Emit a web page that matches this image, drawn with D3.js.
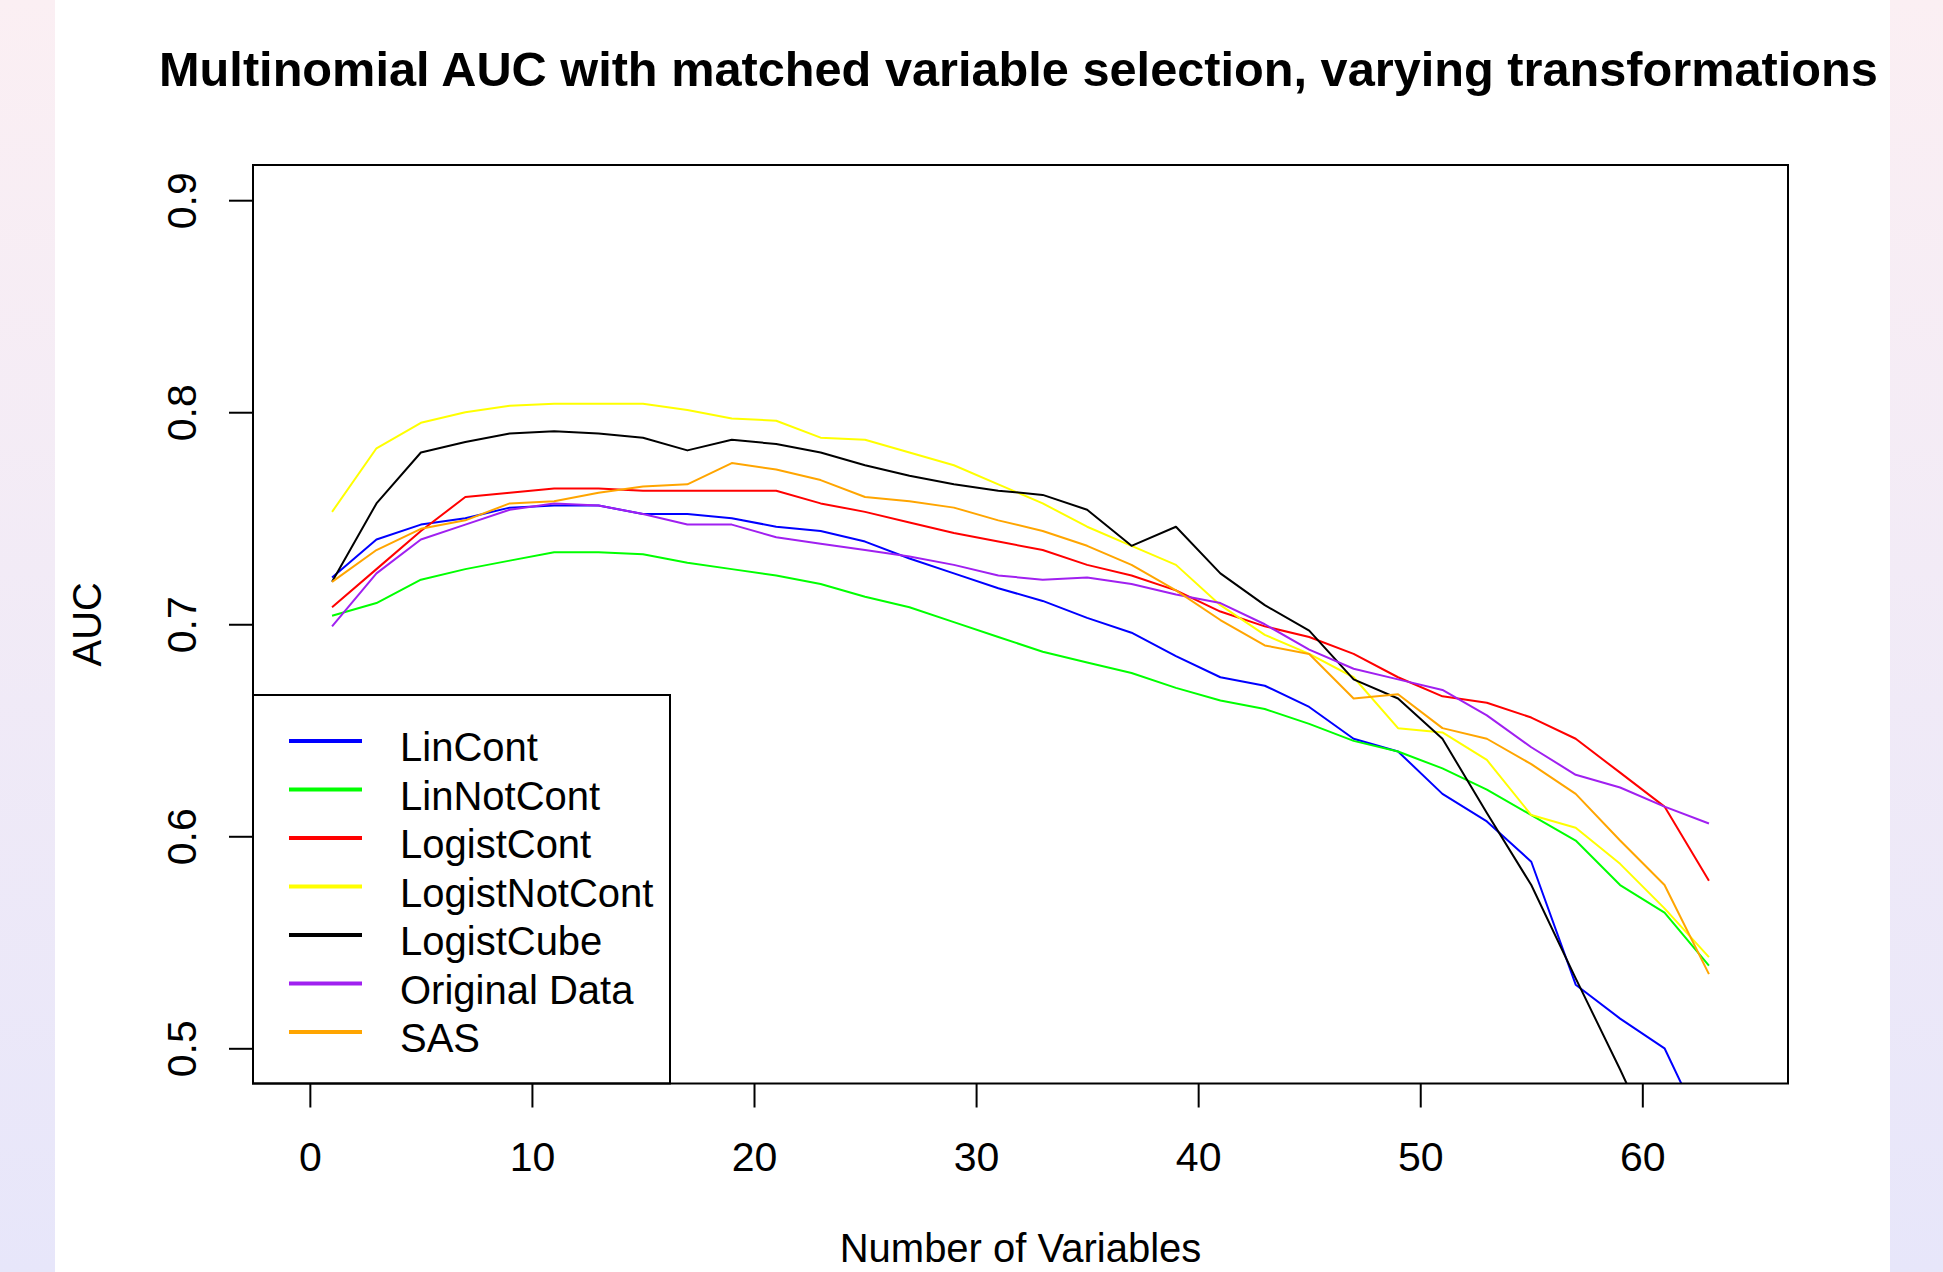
<!DOCTYPE html>
<html>
<head>
<meta charset="utf-8">
<script src="https://cdn.jsdelivr.net/npm/d3@7/dist/d3.min.js"></script>
<style>
  html, body { margin: 0; padding: 0; }
  body { width: 1943px; height: 1272px; overflow: hidden; }
  text { font-family: "Liberation Sans", Arial, sans-serif; fill: #000; }
</style>
</head>
<body>
<svg id="chart" width="1943" height="1272"></svg>
<script>
// number of variables in the model (x axis)
const numVars = [1, 3, 5, 7, 9, 11, 13, 15, 17, 19, 21, 23, 25, 27, 29, 31,
                 33, 35, 37, 39, 41, 43, 45, 47, 49, 51, 53, 55, 57, 59, 61, 63];

// AUC for each transformation
const linCont = [0.722, 0.740, 0.747, 0.750, 0.755, 0.756, 0.756, 0.752, 0.752, 0.750, 0.746, 0.744, 0.739, 0.731, 0.724, 0.717,
                 0.711, 0.703, 0.696, 0.685, 0.675, 0.671, 0.661, 0.646, 0.640, 0.620, 0.607, 0.588, 0.530, 0.514, 0.500, 0.456];
const linNotCont = [0.704, 0.710, 0.721, 0.726, 0.730, 0.734, 0.734, 0.733, 0.729, 0.726, 0.723, 0.719, 0.713, 0.708, 0.701, 0.694,
                    0.687, 0.682, 0.677, 0.670, 0.664, 0.660, 0.653, 0.645, 0.640, 0.632, 0.622, 0.610, 0.598, 0.577, 0.564, 0.539];
const logistCont = [0.708, 0.726, 0.744, 0.760, 0.762, 0.764, 0.764, 0.763, 0.763, 0.763, 0.763, 0.757, 0.753, 0.748, 0.743, 0.739,
                    0.735, 0.728, 0.723, 0.716, 0.706, 0.699, 0.694, 0.686, 0.675, 0.666, 0.663, 0.656, 0.646, 0.630, 0.614, 0.579];
const logistNotCont = [0.753, 0.783, 0.795, 0.800, 0.803, 0.804, 0.804, 0.804, 0.801, 0.797, 0.796, 0.788, 0.787, 0.781, 0.775, 0.766,
                       0.757, 0.746, 0.737, 0.728, 0.709, 0.695, 0.686, 0.675, 0.651, 0.649, 0.636, 0.610, 0.604, 0.587, 0.566, 0.543];
const logistCube = [0.720, 0.757, 0.781, 0.786, 0.790, 0.791, 0.790, 0.788, 0.782, 0.787, 0.785, 0.781, 0.775, 0.770, 0.766, 0.763,
                    0.761, 0.754, 0.737, 0.746, 0.724, 0.709, 0.697, 0.674, 0.665, 0.646, 0.611, 0.577, 0.533, 0.490, 0.445, 0.400];
const originalData = [0.699, 0.724, 0.740, 0.747, 0.754, 0.757, 0.756, 0.752, 0.747, 0.747, 0.741, 0.738, 0.735, 0.732, 0.728, 0.723,
                      0.721, 0.722, 0.719, 0.714, 0.710, 0.700, 0.688, 0.679, 0.674, 0.669, 0.657, 0.642, 0.629, 0.623, 0.614, 0.606];
const sas = [0.720, 0.735, 0.745, 0.749, 0.757, 0.758, 0.762, 0.765, 0.766, 0.776, 0.773, 0.768, 0.760, 0.758, 0.755, 0.749,
             0.744, 0.737, 0.728, 0.716, 0.702, 0.690, 0.686, 0.665, 0.667, 0.651, 0.646, 0.634, 0.620, 0.598, 0.577, 0.535];

const seriesNames = ["LinCont", "LinNotCont", "LogistCont", "LogistNotCont", "LogistCube", "Original Data", "SAS"];
const seriesValues = [linCont, linNotCont, logistCont, logistNotCont, logistCube, originalData, sas];
const seriesColors = ["#0000ff", "#00ff00", "#ff0000", "#ffff00", "#000000", "#a020f0", "#ffa500"];

const xTicks = [0, 10, 20, 30, 40, 50, 60];
const yTicks = [0.5, 0.6, 0.7, 0.8, 0.9];

// page and plot box
let svgWidth = 1943;
let svgHeight = 1272;
let box = {left: 253, right: 1788, top: 165, bottom: 1083.5};
let fontSize = 40;

let svg = d3.select("#chart");

// soft gradient behind the white page
let defs = svg.append("defs");
let grad = defs.append("linearGradient")
  .attr("id", "bgGrad")
  .attr("x1", 0).attr("y1", 0).attr("x2", 0).attr("y2", 1);
grad.append("stop").attr("offset", "0%").attr("stop-color", "#fbeff3");
grad.append("stop").attr("offset", "100%").attr("stop-color", "#e7e6fa");

svg.append("rect")
  .attr("width", svgWidth).attr("height", svgHeight)
  .attr("fill", "url(#bgGrad)");
svg.append("rect")
  .attr("x", 55).attr("y", 0)
  .attr("width", 1835).attr("height", svgHeight)
  .attr("fill", "#ffffff");

defs.append("clipPath").attr("id", "plotClip")
  .append("rect")
  .attr("x", box.left).attr("y", box.top)
  .attr("width", box.right - box.left).attr("height", box.bottom - box.top);

// scales, R style 4% padding round the data range
let xScale = d3.scaleLinear()
  .domain([-2.56, 66.56])
  .range([box.left, box.right]);
let yScale = d3.scaleLinear()
  .domain([0.4834, 0.9166])
  .range([box.bottom, box.top]);

// axes
let xAxis = d3.axisBottom(xScale)
  .tickValues(xTicks)
  .tickFormat(d3.format("d"))
  .tickSizeOuter(0)
  .tickSize(24)
  .tickPadding(34);
let yAxis = d3.axisLeft(yScale)
  .tickValues(yTicks)
  .tickFormat(d3.format(".1f"))
  .tickSizeOuter(0)
  .tickSize(24);

let gx = svg.append("g")
  .attr("transform", "translate(0," + box.bottom + ")")
  .call(xAxis);
let gy = svg.append("g")
  .attr("transform", "translate(" + box.left + ",0)")
  .call(yAxis);

[gx, gy].forEach(function(g) {
  g.select(".domain").remove();
  g.selectAll(".tick line").attr("stroke", "#000").attr("stroke-width", 2);
  g.selectAll(".tick text")
    .attr("font-family", "Liberation Sans, Arial, sans-serif")
    .attr("font-size", 41)
    .attr("fill", "#000");
});

// y labels run along the axis
gy.selectAll(".tick text")
  .attr("x", 0)
  .attr("y", -57)
  .attr("dy", null)
  .attr("text-anchor", "middle")
  .attr("transform", "rotate(-90)");

// lines
let line = d3.line()
  .x(function(d) { return xScale(d[0]); })
  .y(function(d) { return yScale(d[1]); });

let linesG = svg.append("g").attr("clip-path", "url(#plotClip)");
seriesValues.forEach(function(vals, i) {
  linesG.append("path")
    .datum(numVars.map(function(v, j) { return [v, vals[j]]; }))
    .attr("d", line)
    .attr("fill", "none")
    .attr("stroke", seriesColors[i])
    .attr("stroke-width", 2)
    .attr("stroke-linejoin", "round");
});

// legend box, bottom left
let legend = {left: box.left, top: 695, right: 670, bottom: box.bottom};
svg.append("rect")
  .attr("x", legend.left).attr("y", legend.top)
  .attr("width", legend.right - legend.left)
  .attr("height", legend.bottom - legend.top)
  .attr("fill", "#ffffff")
  .attr("stroke", "#000").attr("stroke-width", 2);

let rowStep = 48.5;
seriesNames.forEach(function(name, i) {
  let ly = 741 + i * rowStep;
  svg.append("line")
    .attr("x1", 289).attr("x2", 362)
    .attr("y1", ly).attr("y2", ly)
    .attr("stroke", seriesColors[i])
    .attr("stroke-width", 4);
  svg.append("text")
    .attr("x", 400).attr("y", ly + 20)
    .attr("font-size", fontSize)
    .text(name);
});

// plot frame
svg.append("rect")
  .attr("x", box.left).attr("y", box.top)
  .attr("width", box.right - box.left)
  .attr("height", box.bottom - box.top)
  .attr("fill", "none")
  .attr("stroke", "#000").attr("stroke-width", 2);

// title, sized to match the reference width
let title = svg.append("text")
  .attr("x", 1018.5).attr("y", 86)
  .attr("text-anchor", "middle")
  .attr("font-weight", "bold")
  .attr("font-size", 50)
  .text("Multinomial AUC with matched variable selection, varying transformations");
let tw = title.node().getComputedTextLength();
title.attr("font-size", 50 * 1719 / tw);

// axis titles
svg.append("text")
  .attr("x", (box.left + box.right) / 2).attr("y", 1262)
  .attr("text-anchor", "middle")
  .attr("font-size", fontSize)
  .text("Number of Variables");

svg.append("text")
  .attr("transform", "translate(101," + ((box.top + box.bottom) / 2) + ")rotate(-90)")
  .attr("text-anchor", "middle")
  .attr("font-size", fontSize)
  .text("AUC");
</script>
</body>
</html>
